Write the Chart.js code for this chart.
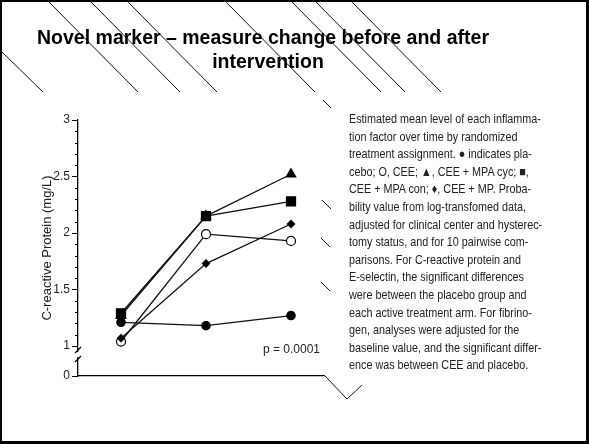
<!DOCTYPE html>
<html>
<head>
<meta charset="utf-8">
<script src="https://cdn.jsdelivr.net/npm/chart.js@4.4.1/dist/chart.umd.min.js"></script>
<style>
  html, body { margin: 0; padding: 0; background: #fff; }
  #slide { position: relative; width: 589px; height: 444px; overflow: hidden; background: #fff; font-family: "Liberation Sans", Arial, sans-serif; }
  #frame { position: absolute; left: 0; top: 0; width: 589px; height: 444px; box-sizing: border-box; border: 2px solid #000; border-right-width: 3px; border-bottom-width: 3px; z-index: 5; }
  #bg { position: absolute; left: 0; top: 0; }
  .title { position: absolute; left: 0; text-align: center; font-weight: bold; font-size: 19.5px; line-height: 23px; color: #000; white-space: nowrap; }
  #chartBox { position: absolute; left: 20px; top: 100px; width: 305px; height: 300px; }
  #caption { position: absolute; left: 349px; top: 110px; font-family: "Liberation Sans", Arial, sans-serif; font-size: 13px; line-height: 17.6px; color: #222; white-space: nowrap; transform: scaleX(0.83); transform-origin: 0 0; }
</style>
</head>
<body>
<div id="slide">
  <canvas id="bg" width="589" height="444"></canvas>
  <div class="title" style="width:526px; top:26px;">Novel marker – measure change before and after</div>
  <div class="title" style="width:536px; top:50px;">intervention</div>
  <div id="chartBox"><canvas id="crpChart"></canvas></div>
  <div id="caption">
    <div>Estimated mean level of each inflamma-</div>
    <div>tion factor over time by randomized</div>
    <div>treatment assignment. ● indicates pla-</div>
    <div>cebo; O, CEE; ▲, CEE + MPA cyc; ■,</div>
    <div>CEE + MPA con; ♦, CEE + MP. Proba-</div>
    <div>bility value from log-transfomed data,</div>
    <div>adjusted for clinical center and hysterec-</div>
    <div>tomy status, and for 10 pairwise com-</div>
    <div>parisons. For C-reactive protein and</div>
    <div>E-selectin, the significant differences</div>
    <div>were between the placebo group and</div>
    <div>each active treatment arm. For fibrino-</div>
    <div>gen, analyses were adjusted for the</div>
    <div>baseline value, and the significant differ-</div>
    <div>ence was between CEE and placebo.</div>
  </div>
  <div id="frame"></div>
</div>
<script>
// visits: baseline, year 1, year 3
const timePoints = [1, 2, 3];

// mean C-reactive protein (mg/L) per treatment arm
const placebo = [1.21, 1.18, 1.27];
const cee = [1.04, 1.99, 1.93];
const ceeMpaCyc = [1.27, 2.15, 2.52];
const ceeMpaCon = [1.29, 2.15, 2.28];
const ceeMp = [1.07, 1.73, 2.08];

const yTickValues = [1, 1.5, 2, 2.5, 3];
const yZero = 0.735; // bottom of the broken axis, labelled "0"
const yAxisTitle = "C-reactive Protein (mg/L)";
const pValueText = "p = 0.0001";

// slide background: diagonal hatch lines left visible around the pictures
const hatchSegments = [
  [2, 52, 43, 92],
  [49, 2, 138, 92], [91, 2, 180, 92], [128, 2, 217, 92], [226, 2, 315, 92],
  [292, 2, 381, 92], [316, 2, 405, 92], [352, 2, 441, 92],
  [323, 100, 331, 108], [322, 200, 331, 209], [321, 238, 330, 247], [321, 282, 330, 291]
];
const bg = document.getElementById("bg").getContext("2d");
bg.strokeStyle = "#111";
bg.lineWidth = 1;
hatchSegments.forEach(([x1, y1, x2, y2]) => {
  bg.beginPath();
  bg.moveTo(x1, y1);
  bg.lineTo(x2, y2);
  bg.stroke();
});
bg.beginPath();
bg.moveTo(325, 376);
bg.lineTo(347, 399);
bg.lineTo(362, 385);
bg.stroke();

function series(label, values, pointStyle, radius, fill) {
  return {
    label: label,
    data: values.map((v, i) => ({ x: timePoints[i], y: v })),
    borderColor: "#111",
    borderWidth: 1.3,
    pointStyle: pointStyle,
    pointRadius: radius,
    pointBackgroundColor: fill,
    pointBorderColor: "#000",
    pointBorderWidth: 1.2,
    tension: 0
  };
}

// minor ticks, axis break and p value
const axisExtras = {
  id: "axisExtras",
  afterDraw(chart) {
    const { ctx, chartArea } = chart;
    const y = chart.scales.y;
    const x0 = chartArea.left;
    ctx.save();
    ctx.strokeStyle = "#000";
    ctx.lineWidth = 1;
    for (let v = 1.1; v < 3; v += 0.1) {
      if (Math.abs(v * 2 - Math.round(v * 2)) < 0.01) continue;
      const py = Math.round(y.getPixelForValue(v)) + 0.5;
      ctx.beginPath();
      ctx.moveTo(x0 - 3, py);
      ctx.lineTo(x0, py);
      ctx.stroke();
    }
    const p1 = y.getPixelForValue(1);
    ctx.fillStyle = "#fff";
    ctx.fillRect(x0 - 2, p1 + 6, 4, 5);
    ctx.lineWidth = 1.3;
    [p1 + 4, p1 + 13].forEach(c => {
      ctx.beginPath();
      ctx.moveTo(x0 - 3, c + 3);
      ctx.lineTo(x0 + 3, c - 3);
      ctx.stroke();
    });
    ctx.fillStyle = "#222";
    ctx.font = "12px 'Liberation Sans', Arial, sans-serif";
    ctx.textAlign = "right";
    ctx.textBaseline = "middle";
    ctx.fillText(pValueText, chartArea.right - 5, p1 + 4);
    ctx.restore();
  }
};

new Chart(document.getElementById("crpChart"), {
  type: "line",
  data: {
    datasets: [
      series("CEE + MPA con", ceeMpaCon, "rect", 6.4, "#000"),
      series("CEE + MPA cyc", ceeMpaCyc, "triangle", 5.5, "#000"),
      series("CEE + MP", ceeMp, "rectRot", 3.6, "#000"),
      series("CEE", cee, "circle", 4.5, "#fff"),
      series("Placebo", placebo, "circle", 4.2, "#000")
    ]
  },
  options: {
    responsive: true,
    maintainAspectRatio: false,
    animation: false,
    layout: { autoPadding: false, padding: { top: 20, bottom: 24, left: 0, right: 0 } },
    plugins: {
      legend: { display: false },
      tooltip: { enabled: false }
    },
    scales: {
      x: {
        type: "linear",
        min: 0.494,
        max: 3.4,
        grid: { display: false },
        ticks: { display: false },
        border: { color: "#000", width: 1.3 },
        afterFit: (scale) => { scale.height = 0; }
      },
      y: {
        type: "linear",
        min: yZero,
        max: 3,
        afterBuildTicks: (scale) => {
          scale.ticks = [yZero].concat(yTickValues).map(v => ({ value: v }));
        },
        afterFit: (scale) => { scale.width = 58; },
        grid: { drawOnChartArea: false, drawTicks: true, tickLength: 6, color: "#000", lineWidth: 1 },
        border: { color: "#000", width: 1.3 },
        ticks: {
          padding: 2,
          color: "#222",
          font: { family: "'Liberation Sans', Arial, sans-serif", size: 12 },
          callback: (v) => (v === yZero ? "0" : String(v))
        },
        title: {
          display: true,
          text: yAxisTitle,
          color: "#222",
          font: { family: "'Liberation Sans', Arial, sans-serif", size: 13 },
          padding: { top: 20, bottom: 0 }
        }
      }
    }
  },
  plugins: [axisExtras]
});
</script>
</body>
</html>
